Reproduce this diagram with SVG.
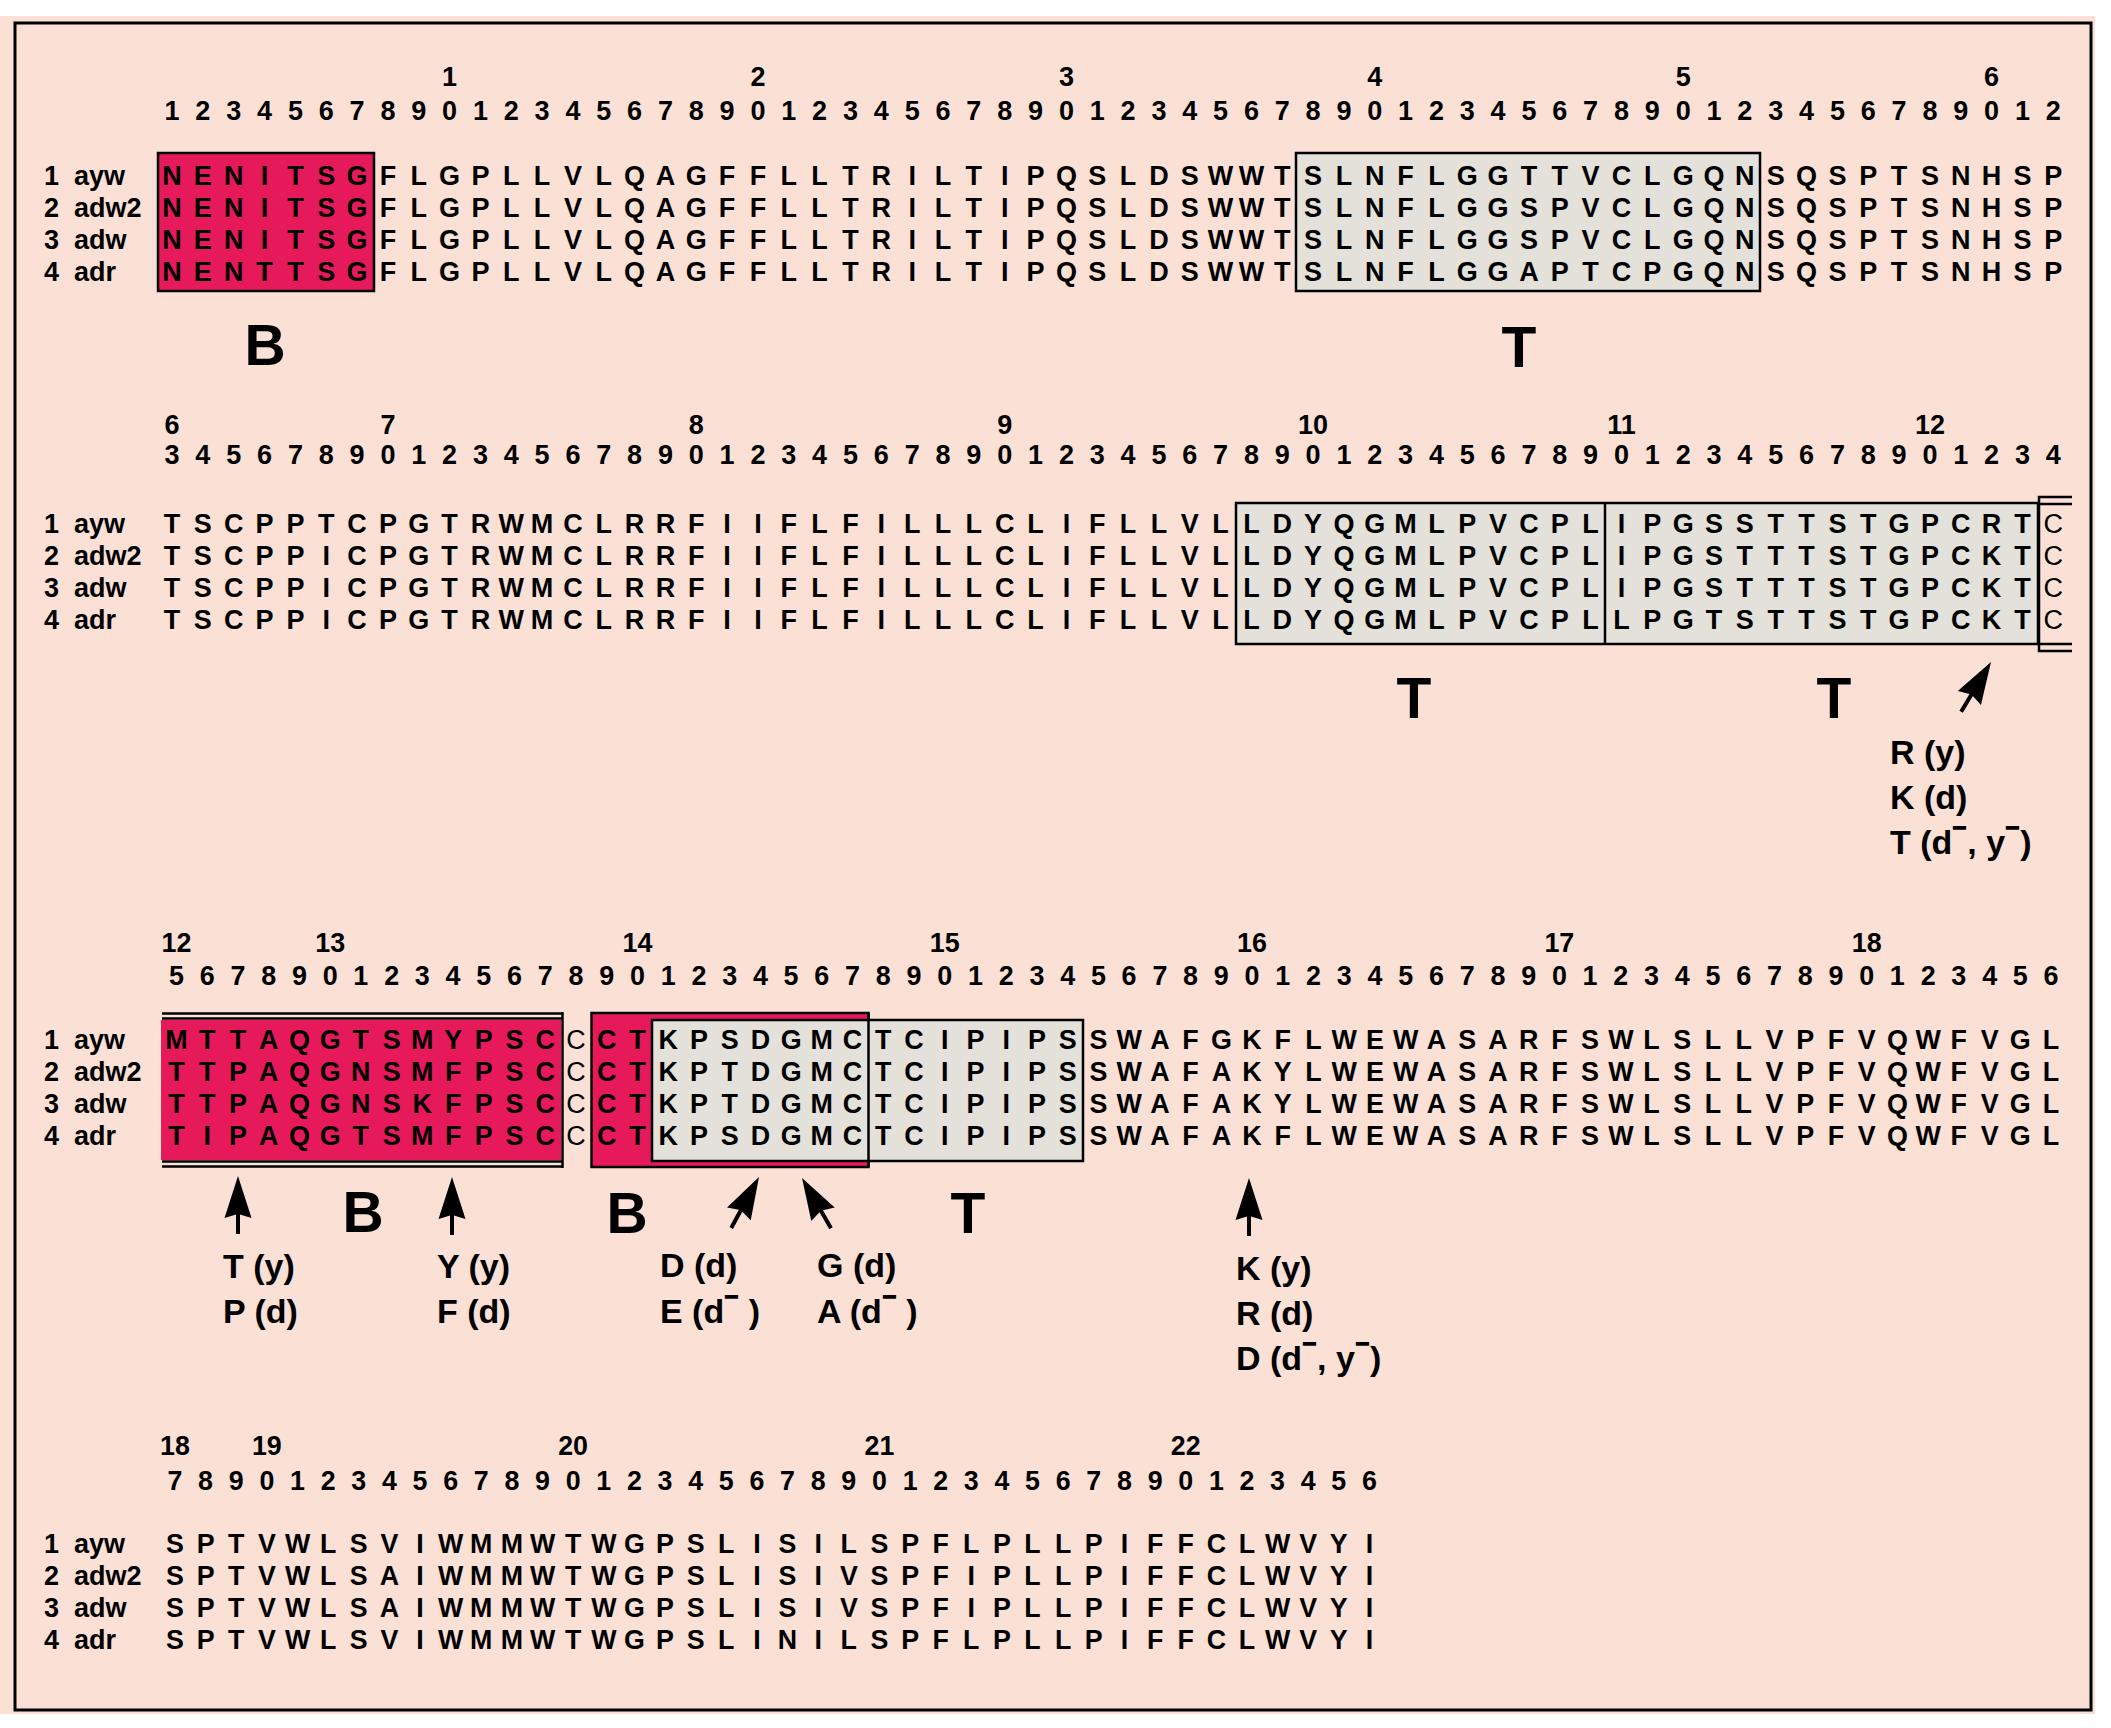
<svg xmlns="http://www.w3.org/2000/svg" xmlns:xlink="http://www.w3.org/1999/xlink" width="2111" height="1728" viewBox="0 0 2111 1728">
<style>
text{font-family:"Liberation Sans",Arial,sans-serif;font-weight:bold;fill:#000}
.seq{font-size:27px;text-anchor:middle}
.num{font-size:27px;text-anchor:middle}
.lab{font-size:27px}
.big{font-size:57px;text-anchor:middle}
.ann{font-size:34px}
.sup{font-size:44px}
.thin{font-weight:normal}
.pink{fill:#E6195B}
.gray{fill:#E3E1DA}
.box{stroke:#000;stroke-width:2.5}
.ln{stroke:#000;stroke-width:2.5;fill:none}
</style>
<defs>
<path id="arrowUp" d="M0,0 L13.5,42 L2,38.5 L2,58 L-2,58 L-2,38.5 L-13.5,42 Z" fill="#000"/>
</defs>
<rect x="0" y="0" width="2111" height="1728" fill="#fff"/>
<rect x="0" y="16" width="2095" height="1698" fill="#FBE0D6"/>
<rect x="15" y="23" width="2076" height="1687" fill="none" stroke="#000" stroke-width="3"/>

<!-- Block 1 -->
<g id="block1">
<g id="b1-boxes">
<rect id="b1-B" class="pink box" x="158" y="153" width="216" height="138"/>
<rect id="b1-T" class="gray box" x="1296" y="153" width="464" height="138"/>
</g>
<g id="b1-numbers">
<text class="num" x="449.6" y="86">1</text><text class="num" x="758" y="86">2</text><text class="num" x="1066.4" y="86">3</text><text class="num" x="1374.8" y="86">4</text><text class="num" x="1683.2" y="86">5</text><text class="num" x="1991.6" y="86">6</text>
<text class="num" y="120" x="172 202.8 233.7 264.5 295.4 326.2 357 387.9 418.7 449.6 480.4 511.2 542.1 572.9 603.8 634.6 665.4 696.3 727.1 758 788.8 819.6 850.5 881.3 912.2 943 973.8 1004.7 1035.5 1066.4 1097.2 1128 1158.9 1189.7 1220.6 1251.4 1282.2 1313.1 1343.9 1374.8 1405.6 1436.4 1467.3 1498.1 1529 1559.8 1590.6 1621.5 1652.3 1683.2 1714 1744.8 1775.7 1806.5 1837.4 1868.2 1899 1929.9 1960.7 1991.6 2022.4 2053.2">12345678901234567890123456789012345678901234567890123456789012</text>
</g>
<g id="b1-labels">
<text class="lab" y="185"><tspan x="44">1</tspan><tspan x="74">ayw</tspan></text>
<text class="lab" y="217"><tspan x="44">2</tspan><tspan x="74">adw2</tspan></text>
<text class="lab" y="249"><tspan x="44">3</tspan><tspan x="74">adw</tspan></text>
<text class="lab" y="281"><tspan x="44">4</tspan><tspan x="74">adr</tspan></text>
</g>
<g id="b1-seq">
<text class="seq" y="185" x="172 202.8 233.7 264.5 295.4 326.2 357 387.9 418.7 449.6 480.4 511.2 542.1 572.9 603.8 634.6 665.4 696.3 727.1 758 788.8 819.6 850.5 881.3 912.2 943 973.8 1004.7 1035.5 1066.4 1097.2 1128 1158.9 1189.7 1220.6 1251.4 1282.2 1313.1 1343.9 1374.8 1405.6 1436.4 1467.3 1498.1 1529 1559.8 1590.6 1621.5 1652.3 1683.2 1714 1744.8 1775.7 1806.5 1837.4 1868.2 1899 1929.9 1960.7 1991.6 2022.4 2053.2">NENITSGFLGPLLVLQAGFFLLTRILTIPQSLDSWWTSLNFLGGTTVCLGQNSQSPTSNHSP</text>
<text class="seq" y="217" x="172 202.8 233.7 264.5 295.4 326.2 357 387.9 418.7 449.6 480.4 511.2 542.1 572.9 603.8 634.6 665.4 696.3 727.1 758 788.8 819.6 850.5 881.3 912.2 943 973.8 1004.7 1035.5 1066.4 1097.2 1128 1158.9 1189.7 1220.6 1251.4 1282.2 1313.1 1343.9 1374.8 1405.6 1436.4 1467.3 1498.1 1529 1559.8 1590.6 1621.5 1652.3 1683.2 1714 1744.8 1775.7 1806.5 1837.4 1868.2 1899 1929.9 1960.7 1991.6 2022.4 2053.2">NENITSGFLGPLLVLQAGFFLLTRILTIPQSLDSWWTSLNFLGGSPVCLGQNSQSPTSNHSP</text>
<text class="seq" y="249" x="172 202.8 233.7 264.5 295.4 326.2 357 387.9 418.7 449.6 480.4 511.2 542.1 572.9 603.8 634.6 665.4 696.3 727.1 758 788.8 819.6 850.5 881.3 912.2 943 973.8 1004.7 1035.5 1066.4 1097.2 1128 1158.9 1189.7 1220.6 1251.4 1282.2 1313.1 1343.9 1374.8 1405.6 1436.4 1467.3 1498.1 1529 1559.8 1590.6 1621.5 1652.3 1683.2 1714 1744.8 1775.7 1806.5 1837.4 1868.2 1899 1929.9 1960.7 1991.6 2022.4 2053.2">NENITSGFLGPLLVLQAGFFLLTRILTIPQSLDSWWTSLNFLGGSPVCLGQNSQSPTSNHSP</text>
<text class="seq" y="281" x="172 202.8 233.7 264.5 295.4 326.2 357 387.9 418.7 449.6 480.4 511.2 542.1 572.9 603.8 634.6 665.4 696.3 727.1 758 788.8 819.6 850.5 881.3 912.2 943 973.8 1004.7 1035.5 1066.4 1097.2 1128 1158.9 1189.7 1220.6 1251.4 1282.2 1313.1 1343.9 1374.8 1405.6 1436.4 1467.3 1498.1 1529 1559.8 1590.6 1621.5 1652.3 1683.2 1714 1744.8 1775.7 1806.5 1837.4 1868.2 1899 1929.9 1960.7 1991.6 2022.4 2053.2">NENTTSGFLGPLLVLQAGFFLLTRILTIPQSLDSWWTSLNFLGGAPTCPGQNSQSPTSNHSP</text>
</g>
<g id="b1-epitopes">
<text class="big" x="265" y="365">B</text>
<text class="big" x="1519" y="367">T</text>
</g>
</g>

<!-- Block 2 -->
<g id="block2">
<g id="b2-boxes">
<rect id="b2-T" class="gray box" x="1236" y="503" width="802" height="141"/>
<line class="ln" x1="1605" y1="503" x2="1605" y2="644" stroke-width="3"/>
<path class="ln" d="M2072,497 H2039 V651 H2072 M2039,504 H2072 M2039,644 H2072"/>
</g>
<g id="b2-numbers">
<text class="num" x="172" y="434">6</text><text class="num" x="387.9" y="434">7</text><text class="num" x="696.3" y="434">8</text><text class="num" x="1004.7" y="434">9</text><text class="num" x="1313.1" y="434">10</text><text class="num" x="1621.5" y="434">11</text><text class="num" x="1929.9" y="434">12</text>
<text class="num" y="464" x="172 202.8 233.7 264.5 295.4 326.2 357 387.9 418.7 449.6 480.4 511.2 542.1 572.9 603.8 634.6 665.4 696.3 727.1 758 788.8 819.6 850.5 881.3 912.2 943 973.8 1004.7 1035.5 1066.4 1097.2 1128 1158.9 1189.7 1220.6 1251.4 1282.2 1313.1 1343.9 1374.8 1405.6 1436.4 1467.3 1498.1 1529 1559.8 1590.6 1621.5 1652.3 1683.2 1714 1744.8 1775.7 1806.5 1837.4 1868.2 1899 1929.9 1960.7 1991.6 2022.4 2053.2">34567890123456789012345678901234567890123456789012345678901234</text>
</g>
<g id="b2-labels">
<text class="lab" y="533"><tspan x="44">1</tspan><tspan x="74">ayw</tspan></text>
<text class="lab" y="565"><tspan x="44">2</tspan><tspan x="74">adw2</tspan></text>
<text class="lab" y="597"><tspan x="44">3</tspan><tspan x="74">adw</tspan></text>
<text class="lab" y="629"><tspan x="44">4</tspan><tspan x="74">adr</tspan></text>
</g>
<g id="b2-seq">
<text class="seq" y="533" x="172 202.8 233.7 264.5 295.4 326.2 357 387.9 418.7 449.6 480.4 511.2 542.1 572.9 603.8 634.6 665.4 696.3 727.1 758 788.8 819.6 850.5 881.3 912.2 943 973.8 1004.7 1035.5 1066.4 1097.2 1128 1158.9 1189.7 1220.6 1251.4 1282.2 1313.1 1343.9 1374.8 1405.6 1436.4 1467.3 1498.1 1529 1559.8 1590.6 1621.5 1652.3 1683.2 1714 1744.8 1775.7 1806.5 1837.4 1868.2 1899 1929.9 1960.7 1991.6 2022.4 2053.2">TSCPPTCPGTRWMCLRRFIIFLFILLLCLIFLLVLLDYQGMLPVCPLIPGSSTTSTGPCRT<tspan class="thin">C</tspan></text>
<text class="seq" y="565" x="172 202.8 233.7 264.5 295.4 326.2 357 387.9 418.7 449.6 480.4 511.2 542.1 572.9 603.8 634.6 665.4 696.3 727.1 758 788.8 819.6 850.5 881.3 912.2 943 973.8 1004.7 1035.5 1066.4 1097.2 1128 1158.9 1189.7 1220.6 1251.4 1282.2 1313.1 1343.9 1374.8 1405.6 1436.4 1467.3 1498.1 1529 1559.8 1590.6 1621.5 1652.3 1683.2 1714 1744.8 1775.7 1806.5 1837.4 1868.2 1899 1929.9 1960.7 1991.6 2022.4 2053.2">TSCPPICPGTRWMCLRRFIIFLFILLLCLIFLLVLLDYQGMLPVCPLIPGSTTTSTGPCKT<tspan class="thin">C</tspan></text>
<text class="seq" y="597" x="172 202.8 233.7 264.5 295.4 326.2 357 387.9 418.7 449.6 480.4 511.2 542.1 572.9 603.8 634.6 665.4 696.3 727.1 758 788.8 819.6 850.5 881.3 912.2 943 973.8 1004.7 1035.5 1066.4 1097.2 1128 1158.9 1189.7 1220.6 1251.4 1282.2 1313.1 1343.9 1374.8 1405.6 1436.4 1467.3 1498.1 1529 1559.8 1590.6 1621.5 1652.3 1683.2 1714 1744.8 1775.7 1806.5 1837.4 1868.2 1899 1929.9 1960.7 1991.6 2022.4 2053.2">TSCPPICPGTRWMCLRRFIIFLFILLLCLIFLLVLLDYQGMLPVCPLIPGSTTTSTGPCKT<tspan class="thin">C</tspan></text>
<text class="seq" y="629" x="172 202.8 233.7 264.5 295.4 326.2 357 387.9 418.7 449.6 480.4 511.2 542.1 572.9 603.8 634.6 665.4 696.3 727.1 758 788.8 819.6 850.5 881.3 912.2 943 973.8 1004.7 1035.5 1066.4 1097.2 1128 1158.9 1189.7 1220.6 1251.4 1282.2 1313.1 1343.9 1374.8 1405.6 1436.4 1467.3 1498.1 1529 1559.8 1590.6 1621.5 1652.3 1683.2 1714 1744.8 1775.7 1806.5 1837.4 1868.2 1899 1929.9 1960.7 1991.6 2022.4 2053.2">TSCPPICPGTRWMCLRRFIIFLFILLLCLIFLLVLLDYQGMLPVCPLLPGTSTTSTGPCKT<tspan class="thin">C</tspan></text>
</g>
<g id="b2-epitopes">
<text class="big" x="1414" y="718">T</text>
<text class="big" x="1834" y="718">T</text>
</g>
<g id="b2-notes">
<text class="ann" x="1890" y="764">R (y)</text>
<text class="ann" x="1890" y="809">K (d)</text>
<text class="ann" x="1890" y="854">T (d<tspan class="sup">⁻</tspan>, y<tspan class="sup">⁻</tspan>)</text>
</g>
</g>

<!-- Block 3 -->
<g id="block3">
<g id="b3-boxes">
<rect class="pink" x="161" y="1020" width="400" height="140"/>
<path class="ln" d="M162,1013.5 H563 M162,1018.5 H563 M162,1161.5 H563 M162,1166.5 H563 M562.5,1012 V1168"/>
<rect id="b3-B2" class="pink box" x="591.5" y="1013" width="277" height="154"/>
<rect id="b3-T" class="gray box" x="652" y="1020" width="431" height="141"/>
<line class="ln" x1="868.5" y1="1013" x2="868.5" y2="1167"/>
</g>
<g transform="matrix(0.99644 0 0 1 5.11 0)">
<g id="b3-numbers">
<text class="num" x="172" y="952">12</text><text class="num" x="326.2" y="952">13</text><text class="num" x="634.6" y="952">14</text><text class="num" x="943" y="952">15</text><text class="num" x="1251.4" y="952">16</text><text class="num" x="1559.8" y="952">17</text><text class="num" x="1868.2" y="952">18</text>
<text class="num" y="985" x="172 202.8 233.7 264.5 295.4 326.2 357 387.9 418.7 449.6 480.4 511.2 542.1 572.9 603.8 634.6 665.4 696.3 727.1 758 788.8 819.6 850.5 881.3 912.2 943 973.8 1004.7 1035.5 1066.4 1097.2 1128 1158.9 1189.7 1220.6 1251.4 1282.2 1313.1 1343.9 1374.8 1405.6 1436.4 1467.3 1498.1 1529 1559.8 1590.6 1621.5 1652.3 1683.2 1714 1744.8 1775.7 1806.5 1837.4 1868.2 1899 1929.9 1960.7 1991.6 2022.4 2053.2">56789012345678901234567890123456789012345678901234567890123456</text>
</g>
<g id="b3-seq">
<text class="seq" y="1049" x="172 202.8 233.7 264.5 295.4 326.2 357 387.9 418.7 449.6 480.4 511.2 542.1 572.9 603.8 634.6 665.4 696.3 727.1 758 788.8 819.6 850.5 881.3 912.2 943 973.8 1004.7 1035.5 1066.4 1097.2 1128 1158.9 1189.7 1220.6 1251.4 1282.2 1313.1 1343.9 1374.8 1405.6 1436.4 1467.3 1498.1 1529 1559.8 1590.6 1621.5 1652.3 1683.2 1714 1744.8 1775.7 1806.5 1837.4 1868.2 1899 1929.9 1960.7 1991.6 2022.4 2053.2">MTTAQGTSMYPSC<tspan class="thin">C</tspan>CTKPSDGMCTCIPIPSSWAFGKFLWEWASARFSWLSLLVPFVQWFVGL</text>
<text class="seq" y="1081" x="172 202.8 233.7 264.5 295.4 326.2 357 387.9 418.7 449.6 480.4 511.2 542.1 572.9 603.8 634.6 665.4 696.3 727.1 758 788.8 819.6 850.5 881.3 912.2 943 973.8 1004.7 1035.5 1066.4 1097.2 1128 1158.9 1189.7 1220.6 1251.4 1282.2 1313.1 1343.9 1374.8 1405.6 1436.4 1467.3 1498.1 1529 1559.8 1590.6 1621.5 1652.3 1683.2 1714 1744.8 1775.7 1806.5 1837.4 1868.2 1899 1929.9 1960.7 1991.6 2022.4 2053.2">TTPAQGNSMFPSC<tspan class="thin">C</tspan>CTKPTDGMCTCIPIPSSWAFAKYLWEWASARFSWLSLLVPFVQWFVGL</text>
<text class="seq" y="1113" x="172 202.8 233.7 264.5 295.4 326.2 357 387.9 418.7 449.6 480.4 511.2 542.1 572.9 603.8 634.6 665.4 696.3 727.1 758 788.8 819.6 850.5 881.3 912.2 943 973.8 1004.7 1035.5 1066.4 1097.2 1128 1158.9 1189.7 1220.6 1251.4 1282.2 1313.1 1343.9 1374.8 1405.6 1436.4 1467.3 1498.1 1529 1559.8 1590.6 1621.5 1652.3 1683.2 1714 1744.8 1775.7 1806.5 1837.4 1868.2 1899 1929.9 1960.7 1991.6 2022.4 2053.2">TTPAQGNSKFPSC<tspan class="thin">C</tspan>CTKPTDGMCTCIPIPSSWAFAKYLWEWASARFSWLSLLVPFVQWFVGL</text>
<text class="seq" y="1145" x="172 202.8 233.7 264.5 295.4 326.2 357 387.9 418.7 449.6 480.4 511.2 542.1 572.9 603.8 634.6 665.4 696.3 727.1 758 788.8 819.6 850.5 881.3 912.2 943 973.8 1004.7 1035.5 1066.4 1097.2 1128 1158.9 1189.7 1220.6 1251.4 1282.2 1313.1 1343.9 1374.8 1405.6 1436.4 1467.3 1498.1 1529 1559.8 1590.6 1621.5 1652.3 1683.2 1714 1744.8 1775.7 1806.5 1837.4 1868.2 1899 1929.9 1960.7 1991.6 2022.4 2053.2">TIPAQGTSMFPSC<tspan class="thin">C</tspan>CTKPSDGMCTCIPIPSSWAFAKFLWEWASARFSWLSLLVPFVQWFVGL</text>
</g>
</g>
<g id="b3-labels">
<text class="lab" y="1049"><tspan x="44">1</tspan><tspan x="74">ayw</tspan></text>
<text class="lab" y="1081"><tspan x="44">2</tspan><tspan x="74">adw2</tspan></text>
<text class="lab" y="1113"><tspan x="44">3</tspan><tspan x="74">adw</tspan></text>
<text class="lab" y="1145"><tspan x="44">4</tspan><tspan x="74">adr</tspan></text>
</g>
<g id="b3-epitopes">
<text class="big" x="363" y="1232">B</text>
<text class="big" x="627" y="1233">B</text>
<text class="big" x="968" y="1233">T</text>
</g>
<g id="b3-notes">
<text class="ann" x="223" y="1278">T (y)</text>
<text class="ann" x="223" y="1323">P (d)</text>
<text class="ann" x="437" y="1278">Y (y)</text>
<text class="ann" x="437" y="1323">F (d)</text>
<text class="ann" x="660" y="1277">D (d)</text>
<text class="ann" x="660" y="1323">E (d<tspan class="sup">⁻</tspan> )</text>
<text class="ann" x="817" y="1277">G (d)</text>
<text class="ann" x="817" y="1323">A (d<tspan class="sup">⁻</tspan> )</text>
<text class="ann" x="1236" y="1280">K (y)</text>
<text class="ann" x="1236" y="1325">R (d)</text>
<text class="ann" x="1236" y="1370">D (d<tspan class="sup">⁻</tspan>, y<tspan class="sup">⁻</tspan>)</text>
</g>
</g>

<!-- Block 4 -->
<g id="block4">
<g transform="matrix(0.9931 0 0 1 4.19 0)">
<g id="b4-numbers">
<text class="num" x="172" y="1455">18</text><text class="num" x="264.5" y="1455">19</text><text class="num" x="572.9" y="1455">20</text><text class="num" x="881.3" y="1455">21</text><text class="num" x="1189.7" y="1455">22</text>
<text class="num" y="1490" x="172 202.8 233.7 264.5 295.4 326.2 357 387.9 418.7 449.6 480.4 511.2 542.1 572.9 603.8 634.6 665.4 696.3 727.1 758 788.8 819.6 850.5 881.3 912.2 943 973.8 1004.7 1035.5 1066.4 1097.2 1128 1158.9 1189.7 1220.6 1251.4 1282.2 1313.1 1343.9 1374.8">7890123456789012345678901234567890123456</text>
</g>
<g id="b4-seq">
<text class="seq" y="1553" x="172 202.8 233.7 264.5 295.4 326.2 357 387.9 418.7 449.6 480.4 511.2 542.1 572.9 603.8 634.6 665.4 696.3 727.1 758 788.8 819.6 850.5 881.3 912.2 943 973.8 1004.7 1035.5 1066.4 1097.2 1128 1158.9 1189.7 1220.6 1251.4 1282.2 1313.1 1343.9 1374.8">SPTVWLSVIWMMWTWGPSLISILSPFLPLLPIFFCLWVYI</text>
<text class="seq" y="1585" x="172 202.8 233.7 264.5 295.4 326.2 357 387.9 418.7 449.6 480.4 511.2 542.1 572.9 603.8 634.6 665.4 696.3 727.1 758 788.8 819.6 850.5 881.3 912.2 943 973.8 1004.7 1035.5 1066.4 1097.2 1128 1158.9 1189.7 1220.6 1251.4 1282.2 1313.1 1343.9 1374.8">SPTVWLSAIWMMWTWGPSLISIVSPFIPLLPIFFCLWVYI</text>
<text class="seq" y="1617" x="172 202.8 233.7 264.5 295.4 326.2 357 387.9 418.7 449.6 480.4 511.2 542.1 572.9 603.8 634.6 665.4 696.3 727.1 758 788.8 819.6 850.5 881.3 912.2 943 973.8 1004.7 1035.5 1066.4 1097.2 1128 1158.9 1189.7 1220.6 1251.4 1282.2 1313.1 1343.9 1374.8">SPTVWLSAIWMMWTWGPSLISIVSPFIPLLPIFFCLWVYI</text>
<text class="seq" y="1649" x="172 202.8 233.7 264.5 295.4 326.2 357 387.9 418.7 449.6 480.4 511.2 542.1 572.9 603.8 634.6 665.4 696.3 727.1 758 788.8 819.6 850.5 881.3 912.2 943 973.8 1004.7 1035.5 1066.4 1097.2 1128 1158.9 1189.7 1220.6 1251.4 1282.2 1313.1 1343.9 1374.8">SPTVWLSVIWMMWTWGPSLINILSPFLPLLPIFFCLWVYI</text>
</g>
</g>
<g id="b4-labels">
<text class="lab" y="1553"><tspan x="44">1</tspan><tspan x="74">ayw</tspan></text>
<text class="lab" y="1585"><tspan x="44">2</tspan><tspan x="74">adw2</tspan></text>
<text class="lab" y="1617"><tspan x="44">3</tspan><tspan x="74">adw</tspan></text>
<text class="lab" y="1649"><tspan x="44">4</tspan><tspan x="74">adr</tspan></text>
</g>
</g>

<!-- Arrows -->
<g id="connectors">
<use xlink:href="#arrowUp" transform="translate(1991,662) rotate(31)"/>
<use xlink:href="#arrowUp" transform="translate(238,1176)"/>
<use xlink:href="#arrowUp" transform="translate(452,1177)"/>
<use xlink:href="#arrowUp" transform="translate(759,1177) rotate(28.6)"/>
<use xlink:href="#arrowUp" transform="translate(802,1178) rotate(-30)"/>
<use xlink:href="#arrowUp" transform="translate(1249,1178)"/>
</g>
</svg>
